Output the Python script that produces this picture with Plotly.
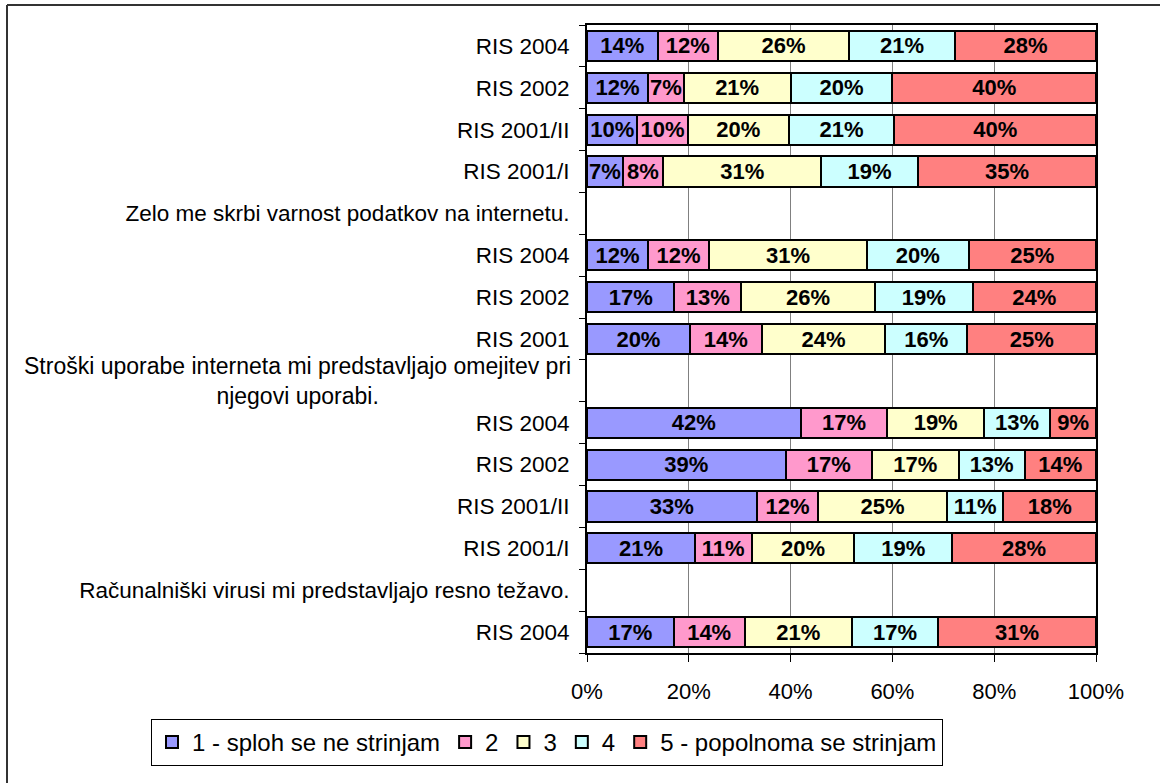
import plotly.graph_objects as go

categories = [
    "RIS 2004", "RIS 2002", "RIS 2001/II", "RIS 2001/I",
    "Zelo me skrbi varnost podatkov na internetu.",
    "RIS 2004", "RIS 2002", "RIS 2001",
    "Stroški uporabe interneta mi predstavljajo omejitev pri<br>njegovi uporabi.",
    "RIS 2004", "RIS 2002", "RIS 2001/II", "RIS 2001/I",
    "Računalniški virusi mi predstavljajo resno težavo.",
    "RIS 2004",
]

s1 = [14, 12, 10, 7, None, 12, 17, 20, None, 42, 39, 33, 21, None, 17]
s2 = [12, 7, 10, 8, None, 12, 13, 14, None, 17, 17, 12, 11, None, 14]
s3 = [26, 21, 20, 31, None, 31, 26, 24, None, 19, 17, 25, 20, None, 21]
s4 = [21, 20, 21, 19, None, 20, 19, 16, None, 13, 13, 11, 19, None, 17]
s5 = [28, 40, 40, 35, None, 25, 24, 25, None, 9, 14, 18, 28, None, 31]

series_names = ["1 - sploh se ne strinjam", "2", "3", "4", "5 - popolnoma se strinjam"]
series_values = [s1, s2, s3, s4, s5]
colors = ["#9999FF", "#FF99CC", "#FFFFCC", "#CCFFFF", "#FF8080"]

x_ticks = [0, 20, 40, 60, 80, 100]
x_ticklabels = ["0%", "20%", "40%", "60%", "80%", "100%"]

FONT = "Liberation Sans, Arial, sans-serif"

W, H = 1160, 783
L, R, T, B = 587, 1096, 25, 653


def px_x(p):
    return (p - L) / (R - L)


def px_y(p):
    return (B - p) / (B - T)


ypos = list(range(len(categories)))

fig = go.Figure()
for name, vals, col in zip(series_names, series_values, colors):
    fig.add_trace(go.Bar(
        y=ypos, x=vals, name=name, orientation="h",
        marker=dict(color=col, line=dict(color="black", width=2)),
        text=[f"{v}%" if v is not None else "" for v in vals],
        texttemplate="%{text}",
        textposition="inside", insidetextanchor="middle", textangle=0,
        textfont=dict(family=FONT, size=22, color="black", weight="bold"),
        hoverinfo="skip",
    ))

ticktext = [c if "<br>" not in c else "" for c in categories]
annotations = []
for i, c in enumerate(categories):
    if "<br>" in c:
        annotations.append(dict(
            x=0, xref="paper", y=i, yref="y", text=c, showarrow=False,
            xanchor="right", yanchor="middle", align="center", xshift=-14,
            font=dict(family=FONT, size=23, color="black"),
        ))

shapes = [
    dict(type="line", xref="paper", yref="paper",
         x0=px_x(7), x1=px_x(7), y0=px_y(5), y1=px_y(783),
         line=dict(color="#333333", width=2)),
    dict(type="line", xref="paper", yref="paper",
         x0=px_x(7), x1=px_x(1160), y0=px_y(5), y1=px_y(5),
         line=dict(color="#333333", width=2)),
]

fig.update_layout(
    width=W, height=H,
    margin=dict(l=L, r=W - R, t=T, b=H - B, pad=0),
    barmode="stack", barnorm="percent", bargap=0.28,
    plot_bgcolor="white", paper_bgcolor="white",
    font=dict(family=FONT, size=22, color="black"),
    uniformtext=dict(minsize=22, mode="show"),
    showlegend=True,
    legend=dict(
        orientation="h", x=px_x(151), xanchor="left", y=px_y(719), yanchor="top",
        bordercolor="black", borderwidth=1, bgcolor="white",
        font=dict(family=FONT, size=24, color="black"),
        itemwidth=30, tracegroupgap=0, traceorder="normal",
    ),
    annotations=annotations,
    shapes=shapes,
)

fig.update_xaxes(
    range=[0, 100], tickvals=x_ticks, ticktext=x_ticklabels,
    showgrid=True, gridcolor="#808080", gridwidth=1,
    showline=True, linecolor="black", linewidth=2, mirror=True,
    ticks="outside", ticklen=7, tickcolor="black", tickwidth=1,
    ticklabelstandoff=11,
    tickfont=dict(family=FONT, size=22, color="black"),
    zeroline=False, fixedrange=True,
)

fig.update_yaxes(
    range=[len(categories) - 0.5, -0.5], tickvals=ypos, ticktext=ticktext,
    showgrid=False, showline=True, linecolor="black", linewidth=2, mirror=True,
    ticks="", ticklabelstandoff=11,
    minor=dict(tick0=-0.5, dtick=1, ticks="outside", ticklen=6,
               tickcolor="black", tickwidth=1, showgrid=False),
    tickfont=dict(family=FONT, size=22.5, color="black"),
    zeroline=False, fixedrange=True,
)

fig.write_html("out.html", config={"displayModeBar": False},
               post_script="document.body.style.margin='0';")
